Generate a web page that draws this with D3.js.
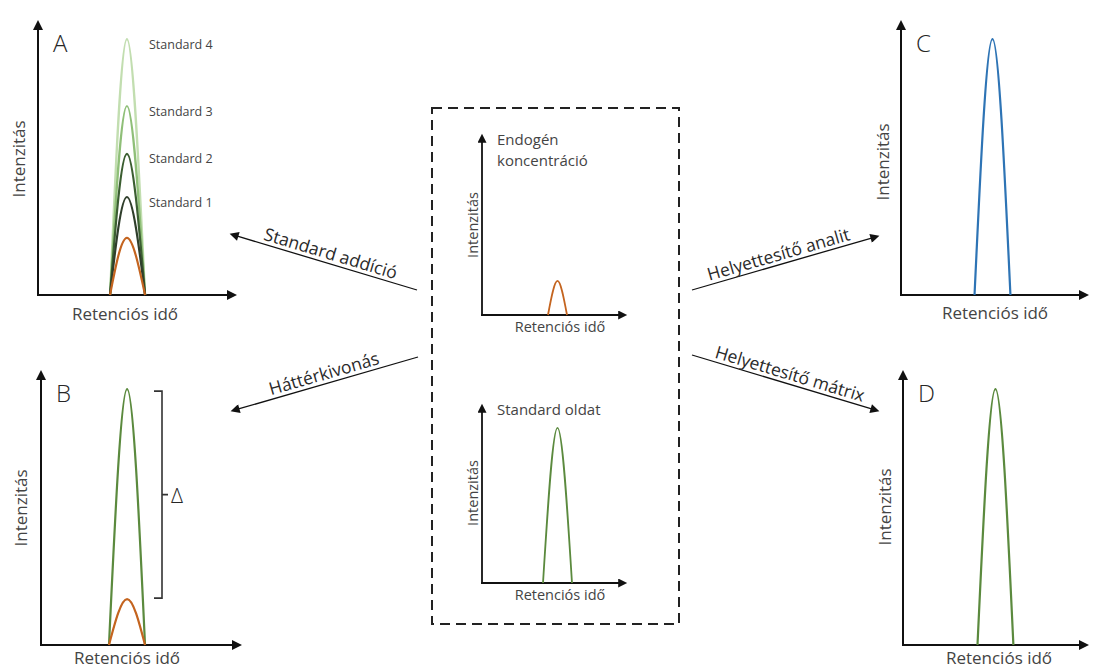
<!DOCTYPE html>
<html>
<head>
<meta charset="utf-8">
<script src="https://cdn.jsdelivr.net/npm/d3@7"></script>
<style>
  html, body { margin: 0; padding: 0; background: #fff; }
  svg { display: block; font-family: "Open Sans", "Noto Sans", sans-serif; }
  .axis-title { fill: #444; font-size: 17px; font-weight: 400; }
  .panel-letter { fill: #262626; font-size: 24px; font-weight: 300; }
  .std-label { fill: #444; font-size: 12.5px; font-weight: 400; }
  .arrow-label { fill: #2a2a2a; font-size: 17.5px; font-weight: 400; }
</style>
</head>
<body>
<svg id="chart" width="1095" height="668"></svg>
<script>
// peaks: retention time (0-10) of start/apex/end, intensity (0-100 of axis height)
const peakPanels = ["A", "A", "A", "A", "A", "B", "B", "C", "D", "endo", "std"];
const peakKinds = ["std4", "std3", "std2", "std1", "endo", "std", "endo", "subst", "std", "endo", "std"];
const peakStart = [3.53, 3.53, 3.53, 3.53, 3.53, 3.3, 3.3, 3.81, 3.9, 4.37, 4.04];
const peakApex = [4.36, 4.36, 4.36, 4.36, 4.36, 4.18, 4.18, 4.74, 4.84, 5.0, 5.0];
const peakEnd = [5.25, 5.25, 5.25, 5.25, 5.25, 5.05, 5.05, 5.67, 5.78, 5.63, 5.96];
const peakHeight = [91.4, 67.5, 50.4, 35.0, 20.4, 91.4, 16.4, 91.4, 91.4, 18.2, 83.8];

const standardLabels = ["Standard 4", "Standard 3", "Standard 2", "Standard 1"];
const standardLevels = [91.4, 67.5, 50.4, 35.0];

const axisTitleY = "Intenzitás";
const axisTitleX = "Retenciós idő";
const arrowLabels = ["Standard addíció", "Háttérkivonás", "Helyettesítő analit", "Helyettesítő mátrix"];
const insetTitles = { endo: ["Endogén", "koncentráció"], std: ["Standard oldat"] };

// layout (pixels)
const frames = {
  A:    { x0: 38,  x1: 242,  base: 295, top: 15,  letter: "A", yTitleX: 18,  yTitleY: 159, xTitleX: 125, xTitleY: 313, big: true },
  B:    { x0: 41,  x1: 247,  base: 645, top: 365, letter: "B", yTitleX: 20,  yTitleY: 508, xTitleX: 127, xTitleY: 657, big: true },
  C:    { x0: 901, x1: 1094, base: 295, top: 15,  letter: "C", yTitleX: 882, yTitleY: 162, xTitleX: 995, xTitleY: 312, big: true },
  D:    { x0: 903, x1: 1094, base: 645, top: 365, letter: "D", yTitleX: 884, yTitleY: 507, xTitleX: 999, xTitleY: 657, big: true },
  endo: { x0: 482, x1: 633,  base: 315, top: 128, yTitleX: 472, yTitleY: 225, xTitleX: 560, xTitleY: 326, big: false },
  std:  { x0: 482, x1: 633,  base: 583, top: 398, yTitleX: 472, yTitleY: 493, xTitleX: 560, xTitleY: 594, big: false }
};
const arrowGeom = [
  { from: [417, 290], to: [227, 233], shift: 6 },
  { from: [418, 357], to: [228, 412], shift: 4 },
  { from: [692, 290], to: [882, 235], shift: -6 },
  { from: [692, 355], to: [882, 412], shift: 0 }
];
const kindColors = {
  std4: "#c2deb0", std3: "#8fbf78", std2: "#3b5e31", std1: "#2f3e2b",
  endo: "#c4641f", std: "#5b8a3e", subst: "#2e74b5"
};

const svg = d3.select("#chart");
const defs = svg.append("defs");
defs.append("marker")
  .attr("id", "axisHead").attr("viewBox", "0 0 10 10")
  .attr("refX", 2).attr("refY", 5)
  .attr("markerWidth", 6.5).attr("markerHeight", 5)
  .attr("markerUnits", "strokeWidth").attr("orient", "auto")
  .append("path").attr("d", "M0,0L10,5L0,10Z").attr("fill", "#111");
defs.append("marker")
  .attr("id", "flowHead").attr("viewBox", "0 0 10 10")
  .attr("refX", 2).attr("refY", 5)
  .attr("markerWidth", 10).attr("markerHeight", 7)
  .attr("markerUnits", "strokeWidth").attr("orient", "auto")
  .append("path").attr("d", "M0,0L10,5L0,10Z").attr("fill", "#111");

const scales = {};
Object.entries(frames).forEach(([id, f]) => {
  const x = d3.scaleLinear().domain([0, 10]).range([f.x0, f.x1]);
  const y = d3.scaleLinear().domain([0, 100]).range([f.base, f.top]);
  scales[id] = { x, y };
  const g = svg.append("g").attr("class", "panel-" + id);
  const aw = f.big ? 2 : 1.8;
  const fs = f.big ? "17px" : "14.5px";
  // axes with arrowheads
  g.append("line")
    .attr("x1", f.x0).attr("y1", f.base + aw / 2)
    .attr("x2", f.x0).attr("y2", f.top + 13)
    .attr("stroke", "#111").attr("stroke-width", aw)
    .attr("marker-end", "url(#axisHead)");
  g.append("line")
    .attr("x1", f.x0 - aw / 2).attr("y1", f.base)
    .attr("x2", f.x1 - 13).attr("y2", f.base)
    .attr("stroke", "#111").attr("stroke-width", aw)
    .attr("marker-end", "url(#axisHead)");

  g.append("text").attr("class", "axis-title")
    .attr("transform", `translate(${f.yTitleX},${f.yTitleY}) rotate(-90)`)
    .attr("text-anchor", "middle").attr("dominant-baseline", "central")
    .style("font-size", fs)
    .text(axisTitleY);
  g.append("text").attr("class", "axis-title")
    .attr("x", f.xTitleX).attr("y", f.xTitleY)
    .attr("text-anchor", "middle").attr("dominant-baseline", "central")
    .style("font-size", fs)
    .text(axisTitleX);

  if (f.letter) {
    g.append("text").attr("class", "panel-letter")
      .attr("x", f.x0 + 15).attr("y", f.top + 27)
      .attr("dominant-baseline", "central")
      .text(f.letter);
  }
  if (insetTitles[id]) {
    insetTitles[id].forEach((t, i) => {
      g.append("text").attr("class", "axis-title")
        .attr("x", f.x0 + 15).attr("y", f.top + 11 + i * 21)
        .attr("dominant-baseline", "central")
        .style("font-size", "15px")
        .text(t);
    });
  }
});

// peaks
const peakLine = d3.line().curve(d3.curveNatural);
peakPanels.forEach((p, i) => {
  const { x, y } = scales[p];
  const pts = [
    [x(peakStart[i]), y(0)],
    [x(peakApex[i]), y(peakHeight[i])],
    [x(peakEnd[i]), y(0)]
  ];
  svg.append("path")
    .attr("d", peakLine(pts))
    .attr("fill", "none")
    .attr("stroke", kindColors[peakKinds[i]])
    .attr("stroke-width", frames[p].big ? 2.2 : 1.8);
});

// standard labels in panel A
standardLabels.forEach((t, i) => {
  const { y } = scales.A;
  svg.append("text").attr("class", "std-label")
    .attr("x", 149).attr("y", y(standardLevels[i]) + 5)
    .attr("dominant-baseline", "central")
    .text(t);
});

// delta bracket in panel B
{
  const { y } = scales.B;
  const yTop = y(peakHeight[5]) + 2, yBot = y(peakHeight[6]) - 1;
  const bx = 162;
  svg.append("path")
    .attr("d", `M${bx - 8},${yTop}H${bx}V${yBot}H${bx - 8}M${bx},${(yTop + yBot) / 2}H${bx + 6}`)
    .attr("fill", "none").attr("stroke", "#333").attr("stroke-width", 1.6);
  svg.append("text").attr("class", "panel-letter")
    .attr("x", bx + 9).attr("y", (yTop + yBot) / 2)
    .attr("dominant-baseline", "central")
    .style("font-size", "21px")
    .text("Δ");
}

// dashed box around the center insets
svg.append("rect")
  .attr("x", 432).attr("y", 108).attr("width", 247).attr("height", 516)
  .attr("fill", "none").attr("stroke", "#222").attr("stroke-width", 2)
  .attr("stroke-dasharray", "10,6");

// flow arrows, labels sit on top of the line
arrowGeom.forEach((a, i) => {
  const dx = a.to[0] - a.from[0], dy = a.to[1] - a.from[1];
  const len = Math.hypot(dx, dy);
  const ux = dx / len, uy = dy / len;
  const ex = a.to[0] - ux * 10, ey = a.to[1] - uy * 10;
  svg.append("line")
    .attr("x1", a.from[0]).attr("y1", a.from[1])
    .attr("x2", ex).attr("y2", ey)
    .attr("stroke", "#111").attr("stroke-width", 1.3)
    .attr("marker-end", "url(#flowHead)");
  let ang = Math.atan2(dy, dx) * 180 / Math.PI;
  if (ang > 90) ang -= 180;
  if (ang < -90) ang += 180;
  const rad = ang * Math.PI / 180;
  // normal pointing upwards relative to the rotated text
  const nx = Math.sin(rad), ny = -Math.cos(rad);
  const mx = (a.from[0] + a.to[0]) / 2 + Math.cos(rad) * a.shift + nx * 4;
  const my = (a.from[1] + a.to[1]) / 2 + Math.sin(rad) * a.shift + ny * 4;
  svg.append("text").attr("class", "arrow-label")
    .attr("transform", `translate(${mx},${my}) rotate(${ang})`)
    .attr("text-anchor", "middle")
    .text(arrowLabels[i]);
});
</script>
</body>
</html>
